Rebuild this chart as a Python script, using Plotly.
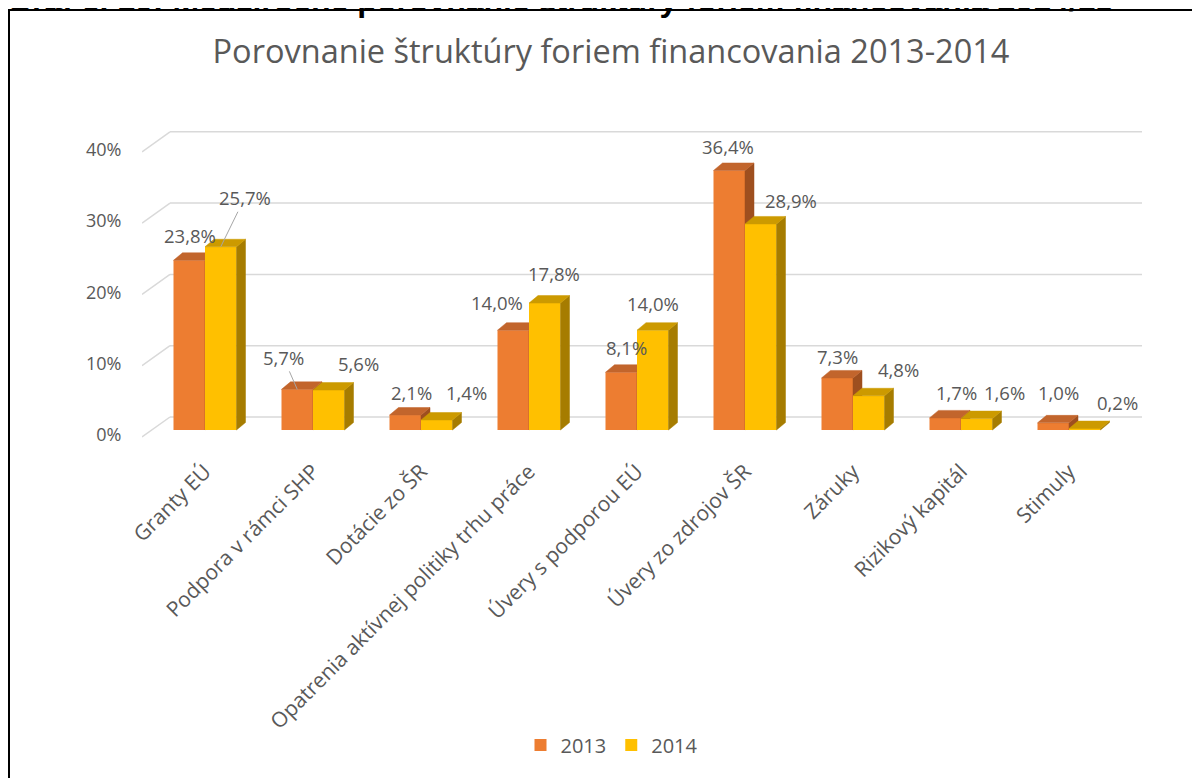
import plotly.graph_objects as go

categories = ["Granty EÚ", "Podpora v rámci SHP", "Dotácie zo ŠR",
              "Opatrenia aktívnej politiky trhu práce", "Úvery s podporou EÚ",
              "Úvery zo zdrojov ŠR", "Záruky", "Rizikový kapitál", "Stimuly"]
years = ["2013", "2014"]
share_2013 = [23.8, 5.7, 2.1, 14.0, 8.1, 36.4, 7.3, 1.7, 1.0]
share_2014 = [25.7, 5.6, 1.4, 17.8, 14.0, 28.9, 4.8, 1.6, 0.2]
y_ticks = [0, 10, 20, 30, 40]

heading = "Graf č. 10: Medziročné porovnanie štruktúry foriem financovania 2014/13"
title = "Porovnanie štruktúry foriem financovania 2013-2014"

front_colors = ["#ED7D31", "#FFC000"]
top_colors = ["#C2652C", "#CC9A00"]
side_colors = ["#9E4F1F", "#A67C00"]
text_color = "#595959"
grid_color = "#D9D9D9"
font = "Open Sans"

W, H = 1200, 778
PAGE = 8  # body margin of the html page

# geometry in page pixels, converted to axis units
PX_CAT = 108.0
PX_PCT = 7.13
BAR_W = 0.2917
DX = 9 / PX_CAT
DY = 7.5 / PX_PCT
plot_x0, plot_x1, plot_y0, plot_y1 = 142, 1150, 120, 440
L, R, T, B = plot_x0 - PAGE, W - plot_x1 + PAGE, plot_y0 - PAGE, H - plot_y1 + PAGE
PW, PH = W - L - R, H - T - B
x_range = [(plot_x0 - 205) / PX_CAT, (plot_x1 - 205) / PX_CAT]
y_range = [-(plot_y1 - 430) / PX_PCT, (430 - plot_y0) / PX_PCT]
tick_shift = 5 / PX_PCT
wall_x0 = (170 - 205) / PX_CAT
wall_x1 = (1142 - 205) / PX_CAT
wall_dy = 13 / PX_PCT
floor_dy = 7 / PX_PCT


def paper_x(px):
    return (px - plot_x0) / PW


def paper_y(py):
    return (plot_y1 - py) / PH


# label nudges in px (right, up) measured from the bar's front top
nudge = {
    "2013": ([1, -14, 6, -16, 5, -1, 0, 11, 5], [25, 32, 23, 28, 25, 24, 21, 25, 30]),
    "2014": ([24, 30, 30, 9, 0, 30, 30, 28, 33], [49, 27, 28, 30, 27, 23, 26, 26, 26]),
}
leaders = {("2014", 0), ("2013", 1)}


def faces(vals, offset):
    tx, ty, sx, sy = [], [], [], []
    for i, v in enumerate(vals):
        x0 = i + offset
        x1 = x0 + BAR_W
        tx += [x0, x1, x1 + DX, x0 + DX, x0, None]
        ty += [v, v, v + DY, v + DY, v, None]
        sx += [x1, x1 + DX, x1 + DX, x1, x1, None]
        sy += [0, DY, v + DY, v, 0, None]
    return tx, ty, sx, sy


fig = go.Figure()
idx = list(range(len(categories)))
annotations = []
for k, (year, vals) in enumerate(zip(years, [share_2013, share_2014])):
    offset = -BAR_W if k == 0 else 0
    yax = "y" if k == 0 else "y3"
    fig.add_trace(go.Bar(x=idx, y=vals, name=year, offset=offset, width=BAR_W,
                         marker=dict(color=front_colors[k], line=dict(width=0)),
                         yaxis=yax))
    tx, ty, sx, sy = faces(vals, offset)
    for fx, fy, col in [(sx, sy, side_colors[k]), (tx, ty, top_colors[k])]:
        fig.add_trace(go.Scatter(x=fx, y=fy, mode="lines", fill="toself",
                                 fillcolor=col, line=dict(color=col, width=0.5),
                                 showlegend=False, hoverinfo="skip", yaxis=yax))
    dxs, dys = nudge[year]
    for i, v in enumerate(vals):
        label = f"{v:.1f}%".replace(".", ",")
        a = dict(x=i + offset + BAR_W / 2, y=v, xref="x", yref="y", text=label,
                 font=dict(family=font, size=18.5, color=text_color))
        if (year, i) in leaders:
            a.update(showarrow=True, ax=dxs[i], ay=-dys[i], arrowhead=0,
                     arrowwidth=1, arrowcolor="#A6A6A6", standoff=0)
        else:
            a.update(showarrow=False, xshift=dxs[i], yshift=dys[i])
        annotations.append(a)

# invisible trace that carries the front tick labels
fig.add_trace(go.Scatter(x=[None], y=[None], yaxis="y2", showlegend=False))

shapes = []
for t in y_ticks:
    shapes.append(dict(type="line", xref="x", yref="y", layer="below",
                       x0=x_range[0], y0=t - floor_dy, x1=wall_x0, y1=t + wall_dy,
                       line=dict(color=grid_color, width=1.5)))
    shapes.append(dict(type="line", xref="x", yref="y", layer="below",
                       x0=wall_x0, y0=t + wall_dy, x1=wall_x1, y1=t + wall_dy,
                       line=dict(color=grid_color, width=1.5)))
# chart border
shapes.append(dict(type="rect", xref="paper", yref="paper",
                   x0=paper_x(9), x1=paper_x(1300), y0=paper_y(900), y1=paper_y(10),
                   line=dict(color="black", width=2), fillcolor="rgba(0,0,0,0)"))

annotations.append(dict(text=heading, xref="paper", yref="paper",
                        x=paper_x(5), y=paper_y(20), xanchor="left", yanchor="bottom",
                        showarrow=False,
                        font=dict(family="Liberation Sans", size=32, color="black",
                                  weight="bold")))

fig.update_layout(
    width=W, height=H,
    margin=dict(l=L, r=R, t=T, b=B),
    paper_bgcolor="white", plot_bgcolor="white",
    barmode="overlay",
    title=dict(text=title, x=(611 - PAGE) / W, xref="container", xanchor="center",
               y=1 - (52 - PAGE) / H, yref="container", yanchor="middle",
               font=dict(family=font, size=32.5, color=text_color),
               automargin=False),
    xaxis=dict(range=x_range, tickvals=idx, ticktext=categories, tickangle=-45,
               showgrid=False, zeroline=False, showline=False, automargin=False,
               ticks="outside", ticklen=10, tickcolor="rgba(0,0,0,0)",
               tickfont=dict(family=font, size=21, color=text_color)),
    yaxis=dict(range=y_range, showgrid=False, zeroline=False, showticklabels=False,
               automargin=False),
    yaxis2=dict(range=[y_range[0] + tick_shift, y_range[1] + tick_shift],
                overlaying="y", side="left", tickvals=y_ticks, automargin=False,
                ticktext=[f"{t}%" for t in y_ticks], showgrid=False, zeroline=False,
                ticks="outside", ticklen=16, tickcolor="rgba(0,0,0,0)",
                tickfont=dict(family=font, size=18, color=text_color)),
    yaxis3=dict(range=y_range, overlaying="y", visible=False),
    legend=dict(orientation="h", xref="container", yref="container",
                x=(612 - PAGE) / W, y=1 - (745 - PAGE) / H,
                xanchor="center", yanchor="middle",
                font=dict(family=font, size=20, color=text_color)),
    shapes=shapes,
    annotations=annotations,
)

fig.write_html("out.html")
